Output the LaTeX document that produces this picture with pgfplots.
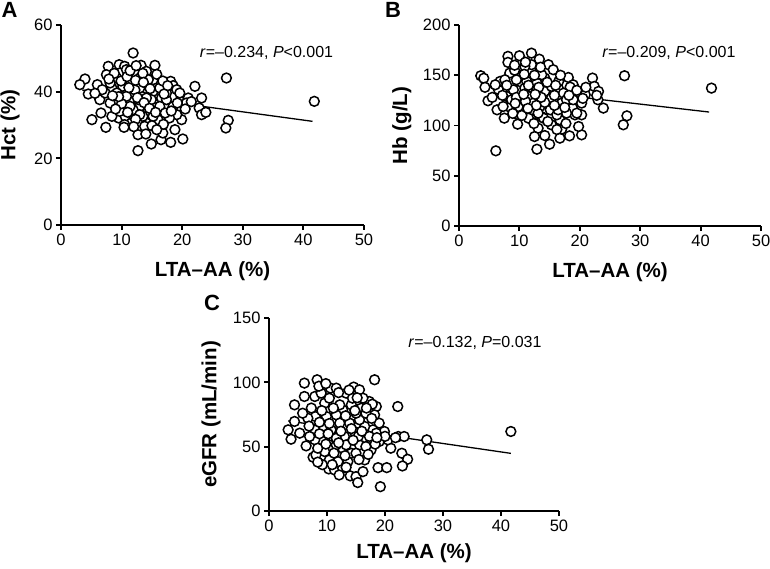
\documentclass[border=0pt]{standalone}
\usepackage{pgfplots}
\pgfplotsset{compat=1.18}
\usepackage{fontspec}
\setmainfont{Liberation Sans}

\pgfplotsset{
  myax/.style={
    scale only axis, axis lines=left,
    axis line style={line width=1.9pt,-},
    xmin=0, xmax=50, xtick={0,10,...,50},
    tick align=outside, major tick length=5pt,
    every tick/.style={line width=1.9pt,black},
    tick label style={font=\fontsize{16.5}{19}\selectfont},
    /pgf/number format/assume math mode=true,
    label style={font=\bfseries\fontsize{20.5}{24}\selectfont},
    clip=false,
  },
  pts/.style={only marks, mark=*, mark size=4.9pt,
    mark options={fill=white, draw=black, line width=1.5pt}},
  reg/.style={no marks, black, line width=1.3pt},
}

\begin{document}
\begin{tikzpicture}
\useasboundingbox (0pt,0pt) rectangle (770pt,568pt);

% ---------------- A ----------------
\begin{axis}[myax, at={(61pt,343pt)}, anchor=south west,
  width=303pt, height=200pt,
  ymin=0, ymax=60, ytick={0,20,40,60},
  xlabel={LTA–AA (\%)}, ylabel={Hct (\%)},
  xlabel style={at={(axis description cs:0.5,-0.23)}, anchor=center},
  ylabel style={at={(axis description cs:-0.168,0.5)}, anchor=center},
]
\addplot[reg] coordinates {(3.5,40.5) (41.5,31.1)};
\addplot[pts] coordinates {
(11.9,51.6) (3.96,43.8) (3.1,42.1) (4.5,39.3) (6.0,42.1) (5.1,31.6) (7.4,29.3)
(6.6,33.6) (7.8,47.6) (9.6,48.1) (10.5,47.6) (13.2,47.9) (15.5,47.9) (9.7,45.6)
(10.8,46.6) (7.5,45.1) (11.8,43.1) (14.1,42.1) (15.2,43.6) (10.2,41.6) (8.4,41.1)
(6.4,37.6) (9.2,37.1) (11.4,37.1) (13.3,38.6) (16.6,38.1) (18.1,43.1) (18.5,41.8)
(19.1,40.6) (22.1,41.6) (21.0,38.1) (23.2,38.1) (22.8,35.1) (23.2,33.1) (23.9,33.8)
(19.6,37.1) (27.3,44.1) (27.6,31.4) (27.2,29.1) (41.8,37.1) (12.7,22.3) (14.9,24.3)
(16.5,25.6) (18.1,24.8) (20.1,25.8) (12.7,27.1) (16.8,27.6) (18.8,28.6) (19.9,31.6)
(19.1,33.1) (16.2,33.1) (14.4,34.1) (13.0,35.6) (9.5,32.1) (10.6,32.6) (8.4,32.6)
(11.6,30.6) (10.5,30.1) (14.1,30.6) (16.0,31.6) (17.4,35.6) (18.5,35.6) (17.4,37.6)
(15.2,40.1) (13.0,41.1) (11.7,39.6) (9.2,39.6) (7.3,39.6) (8.1,36.6) (10.3,35.6)
(11.9,34.6) (13.5,32.6) (15.2,35.6) (16.3,35.6) (14.1,46.1) (12.5,45.1) (9.2,44.1)
(8.1,42.6) (16.3,41.1) (17.4,39.6) (20.7,36.6) (19.6,39.6) (12.8,37.6) (14.9,37.6)
(11.4,35.6) (9.7,34.1) (13.0,33.1) (15.2,32.6) (17.9,32.1) (11.6,42.6) (14.4,43.6)
(13.0,44.1) (10.8,38.6) (14.1,38.1)
(8.8,45.5) (9.9,43.2) (10.9,44.5) (12.2,40.5) (12.6,38.2) (13.7,36.7) (14.6,35)
(15.6,33.8) (10.0,36.4) (9.0,34.8) (11.0,33.8) (12.3,31.7) (13.8,29.6) (15.0,29.8)
(16.9,30.2) (17.2,33.6) (18.2,34.2) (11.2,41.2) (12.3,43.4) (13.5,45.5) (15.8,45.2)
(16.8,43.2) (17.6,41.8) (9.5,38.5) (8.5,38.8) (7.9,43.8) (6.8,40.6) (5.6,39.5)
(10.4,29.3) (12.0,29.5) (14.0,27.3) (15.8,28.6) (20.5,34.8) (21.5,37) (19.2,36.6)
(17.0,39.3) (13.6,42.8) (14.7,40.9) (11.4,46.3) (12.4,47.8)
};
\node[anchor=west, inner sep=0pt, font=\fontsize{16}{19}\selectfont]
  at (axis cs:22.9,51.6) {\textit{r}=–0.234, \textit{P}<0.001};
\end{axis}

% ---------------- B ----------------
\begin{axis}[myax, at={(459pt,342pt)}, anchor=south west,
  width=302pt, height=201pt,
  ymin=0, ymax=200, ytick={0,50,...,200},
  xlabel={LTA–AA (\%)}, ylabel={Hb (g/L)},
  xlabel style={at={(axis description cs:0.5,-0.23)}, anchor=center},
  ylabel style={at={(axis description cs:-0.189,0.5)}, anchor=center},
]
\addplot[reg] coordinates {(3.5,139.6) (41.4,113.4)};
\addplot[pts] coordinates {
(12.0,172) (3.6,149.5) (4.1,147) (4.3,138) (4.8,124.6) (6.1,74.8) (12.9,76.4)
(15.0,81.4) (16.7,87.4) (18.3,89.7) (20.3,90.7) (17.0,96.3) (13.1,97.3) (20.3,110.6)
(19.2,110.6) (7.5,107.3) (9.8,110.6) (11.9,106.6) (13.6,109) (15.3,100.7) (9.7,101.3)
(6.3,115.6) (7.9,128.9) (6.5,136) (6.8,143.9) (8.1,168.8) (8.1,162.8) (10.0,169.4)
(13.3,166) (14.8,160.5) (15.6,155.5) (10.4,149.5) (11.9,155.5) (14.2,147.2) (12.9,142.2)
(16.5,143.9) (18.1,147.8) (18.9,140.5) (18.4,138.2) (16.5,136.2) (14.2,133.9) (11.5,128.9)
(13.4,127.2) (9.7,134.9) (10.1,125.6) (8.4,118.3) (10.4,115.6) (12.0,115.6) (13.4,118.9)
(15.1,115.6) (17.0,122.3) (18.8,117.3) (19.5,112.3) (20.9,130.6) (22.1,147.2) (22.4,138.9)
(23.1,133.9) (23.0,125.6) (23.9,117.3) (27.4,149.5) (27.8,109.6) (27.2,100.7) (41.8,137.2)
(9.5,145.5) (8.4,152.2) (11.2,143.9) (15.3,138.9) (17.3,132.2) (15.3,127.2) (12.3,122.3)
(8.7,125.6) (7.3,118.9) (11.5,107.3) (14.0,107.3) (16.7,105.6) (17.8,112.3) (16.2,110.6)
(16.4,115.6) (10.9,137.2) (12.9,135.5) (9.0,135.5) (7.6,145.5) (6.0,140.5) (12.0,160.5)
(10.9,158.8) (13.7,150.5) (17.8,125.6) (18.9,125.6) (20.3,122.3) (9.8,118.9) (13.1,112.3)
(9.2,155) (10.8,151) (12.5,150) (14.6,143) (16,140) (11.5,140) (13.2,138)
(9.5,128) (11,124) (12.8,120) (14.2,123) (15.8,120) (17.5,118) (10.4,110)
(12.4,102) (14.7,104) (17.7,102) (8.9,112) (7.2,130) (5.5,128) (7.9,140)
(9.2,160) (11,163) (13.5,158) (16.8,150) (19.5,135) (21,138) (20.5,127)
(18.2,130) (15.8,130) (13.6,128) (12.6,131) (10.7,131) (9.3,122) (11.4,117)
(16.2,96) (14.2,90) (12.5,89) (19.8,99) (22.8,130)
};
\node[anchor=west, inner sep=0pt, font=\fontsize{16}{19}\selectfont]
  at (axis cs:23.7,172) {\textit{r}=–0.209, \textit{P}<0.001};
\end{axis}

% ---------------- C ----------------
\begin{axis}[myax, at={(269pt,57pt)}, anchor=south west,
  width=290pt, height=193pt,
  ymin=0, ymax=150, ytick={0,50,100,150},
  xlabel={LTA–AA (\%)}, ylabel={eGFR (mL/min)},
  xlabel style={at={(axis description cs:0.5,-0.218)}, anchor=center},
  ylabel style={at={(axis description cs:-0.2,0.5)}, anchor=center},
]
\addplot[reg] coordinates {(3.3,70) (41.7,44.8)};
\addplot[pts] coordinates {
(18.2,102) (8.3,102) (6.1,99.4) (10.6,95.5) (14.6,96.3) (15.6,94.2) (4.4,82.5)
(22.2,81.2) (18.5,81.2) (3.3,63.1) (3.8,55.8) (4.4,69.6) (5.3,60.5) (6.4,50.6)
(7.6,41.8) (8.1,43.6) (10.3,32.7) (11.3,31.9) (12.7,33.2) (14.0,27.3) (15.0,26.7)
(15.3,22.1) (16.2,30.6) (19.2,18.9) (18.8,33.7) (20.3,33.7) (21.0,48.8) (22.9,44.9)
(23.9,40.2) (23.0,35.0) (22.3,57.9) (23.3,57.9) (27.2,55.3) (27.5,48.0) (41.7,61.8)
(19.9,61.8) (19.0,68.3) (17.9,63.1) (16.5,65.7) (16.2,55.3) (15.6,51.4) (17.6,47.5)
(19.0,54.0) (18.2,74.7) (17.3,85.1) (15.9,79.9) (14.2,82.5) (12.7,78.6) (12.2,82.5)
(13.3,91.6) (11.6,74.7) (12.2,68.3) (9.9,73.4) (8.0,73.4) (6.7,72.1) (9.6,83.8)
(7.9,89.0) (6.1,89.0) (9.3,65.7) (7.9,63.1) (9.0,55.3) (7.9,55.3) (9.6,46.2)
(10.4,39.7) (11.9,38.4) (13.6,38.4) (14.2,44.9) (12.7,48.8) (11.6,51.4) (11.0,57.9)
(13.0,57.9) (14.7,61.8) (13.9,68.3) (15.6,70.9) (15.0,76.0) (10.7,63.1) (11.6,56.6)
(16.5,39.7) (15.0,44.9) (16.7,50.1) (18.5,60.5) (20.5,55.3) (14.4,87.7) (10.4,87.7)
(11.6,95.5) (9.0,91.6) (16.2,87.7) (16.7,76.0) (13.3,51.4) (8.4,48.8) (7.0,57.9)
(8.6,97) (9.8,99) (12,92) (13.8,94) (15.2,88) (17.8,83) (16.8,80)
(14.8,78) (13.2,74) (11.1,80) (9.1,78) (7.3,80) (5.8,76) (6.9,66)
(8.7,69) (10.4,68) (12.4,62) (14.2,64) (15.4,58) (17.3,58) (18.3,52)
(17.1,44) (15.5,40) (13.1,43) (11.2,45) (9.8,52) (8.7,60) (10.2,60)
(12,53) (14.5,55) (16.0,62) (13.3,34) (12.1,28) (9.2,36) (8.4,38)
(10.9,36) (17.7,72) (20,58) (21.8,57) (18.6,57)
};
\node[anchor=west, inner sep=0pt, font=\fontsize{16}{19}\selectfont]
  at (axis cs:24.0,130.5) {\textit{r}=–0.132, \textit{P}=0.031};
\end{axis}

% panel letters
\node[font=\bfseries\fontsize{22}{26}\selectfont, inner sep=0pt] at (9.5pt,558pt) {A};
\node[font=\bfseries\fontsize{22}{26}\selectfont, inner sep=0pt] at (393pt,558pt) {B};
\node[font=\bfseries\fontsize{22}{26}\selectfont, inner sep=0pt] at (212pt,265pt) {C};
\end{tikzpicture}
\end{document}
